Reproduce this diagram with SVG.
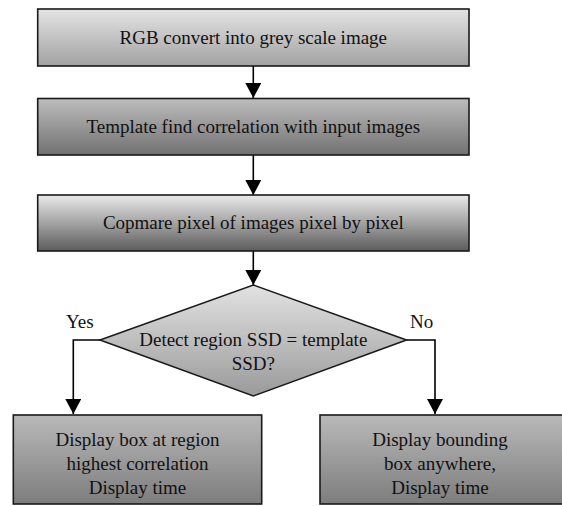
<svg xmlns="http://www.w3.org/2000/svg" width="562" height="506" viewBox="0 0 562 506">
<defs>
<linearGradient id="g1" x1="0" y1="0" x2="0" y2="1"><stop offset="0" stop-color="#e4e4e4"/><stop offset="1" stop-color="#a2a2a2"/></linearGradient>
<linearGradient id="g2" x1="0" y1="0" x2="0" y2="1"><stop offset="0" stop-color="#bdbdbd"/><stop offset="1" stop-color="#717171"/></linearGradient>
<linearGradient id="g3" x1="0" y1="0" x2="0" y2="1"><stop offset="0" stop-color="#eaeaea"/><stop offset="1" stop-color="#5c5c5c"/></linearGradient>
<linearGradient id="gd" x1="0" y1="0" x2="0" y2="1"><stop offset="0" stop-color="#e2e2e2"/><stop offset="1" stop-color="#9a9a9a"/></linearGradient>
<linearGradient id="gb" x1="0" y1="0" x2="0" y2="1"><stop offset="0" stop-color="#b9b9b9"/><stop offset="1" stop-color="#7d7d7d"/></linearGradient>
<marker id="arr" markerUnits="userSpaceOnUse" markerWidth="16" markerHeight="16" refX="15" refY="8" orient="auto"><path d="M0,0 L15,8 L0,16 z" fill="#000"/></marker>
<style>
.box{stroke:#1a1a1a;stroke-width:1.6}
text{font-family:'Liberation Serif','DejaVu Serif','Times New Roman',serif;font-size:19px;fill:#111}
.t{text-anchor:middle}
.c{fill:none;stroke:#000;stroke-width:1.6}
</style>
</defs>
<g id="connectors">
<line class="c" x1="253.3" y1="66" x2="253.3" y2="98" marker-end="url(#arr)"/>
<line class="c" x1="253.3" y1="155" x2="253.3" y2="195" marker-end="url(#arr)"/>
<line class="c" x1="253.3" y1="251" x2="253.3" y2="285" marker-end="url(#arr)"/>
<polyline class="c" points="100,340 73.3,340 73.3,414" marker-end="url(#arr)"/>
<polyline class="c" points="406.5,340 435,340 435,414" marker-end="url(#arr)"/>
<text x="66" y="328">Yes</text>
<text x="410" y="328">No</text>
</g>
<g id="n1">
<rect class="box" x="37.7" y="9" width="431.3" height="57" fill="url(#g1)"/>
<text class="t" x="253.3" y="44">RGB convert into grey scale image</text>
</g>
<g id="n2">
<rect class="box" x="37.7" y="98.5" width="431.3" height="56.5" fill="url(#g2)"/>
<text class="t" x="253.3" y="133">Template find correlation with input images</text>
</g>
<g id="n3">
<rect class="box" x="37.7" y="195" width="431.3" height="56" fill="url(#g3)"/>
<text class="t" x="253.3" y="229">Copmare pixel of images pixel by pixel</text>
</g>
<g id="n4">
<polygon class="box" points="253.3,285 406.5,340 253.3,396 100,340" fill="url(#gd)"/>
<text class="t" x="253.3" y="346">Detect region SSD = template</text>
<text class="t" x="253.3" y="370">SSD?</text>
</g>
<g id="n5">
<rect class="box" x="13.3" y="415" width="248.4" height="89" fill="url(#gb)"/>
<text class="t" x="137.5" y="446">Display box at region</text>
<text class="t" x="137.5" y="470">highest correlation</text>
<text class="t" x="137.5" y="494">Display time</text>
</g>
<g id="n6">
<rect class="box" x="320" y="415" width="244" height="89" fill="url(#gb)"/>
<text class="t" x="440" y="446">Display bounding</text>
<text class="t" x="440" y="470">box anywhere,</text>
<text class="t" x="440" y="494">Display time</text>
</g>
</svg>
